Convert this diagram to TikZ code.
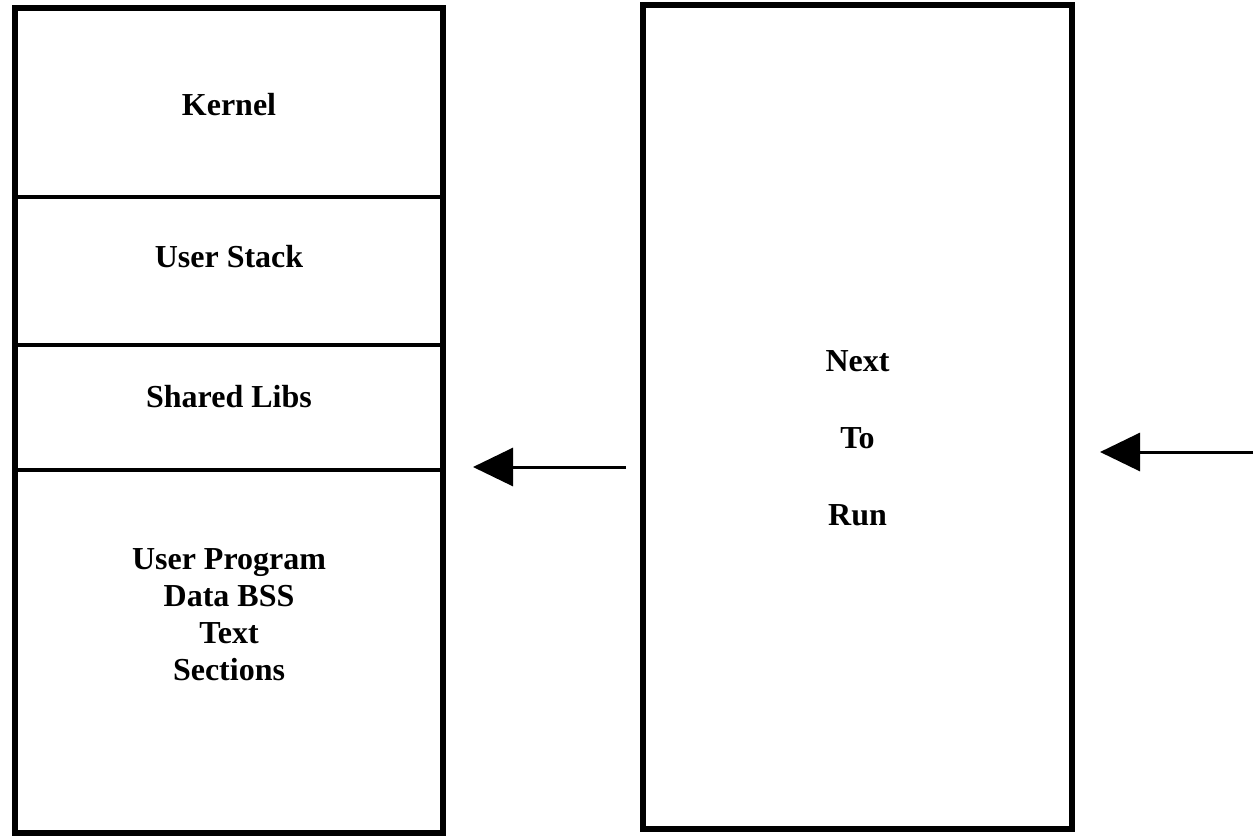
\documentclass[tikz,border=0pt]{standalone}
\usepackage{fontspec}
\setmainfont{Liberation Serif}
\usetikzlibrary{arrows.meta}

\begin{document}
\begin{tikzpicture}[x=0.5pt, y=-0.5pt,
		frame/.style={rectangle, draw=black, line width=3pt, inner sep=0pt},
		divider/.style={line width=1.75pt},
		label/.style={font=\fontsize{16}{18.4}\selectfont\bfseries, align=center, anchor=base},
		arrow/.style={-{Triangle[length=20pt, width=19pt]}, line width=1.5pt}
	]
		\useasboundingbox (0,0) rectangle (1256,836);

		% address space, split into sections
		\node[frame, minimum width=214pt, minimum height=412.5pt] (mem) at (229,420.5) {};
		\draw[divider] (15,197) -- (443,197);
		\draw[divider] (15,345) -- (443,345);
		\draw[divider] (15,470) -- (443,470);
		\node[label] (kernel) at (229,115) {Kernel};
		\node[label] (stack) at (229,267) {User Stack};
		\node[label] (libs) at (229,407) {Shared Libs};
		% base of a multi-line node is its last line
		\node[label] (prog) at (229,680) {User Program\\Data BSS\\Text\\Sections};

		% process waiting
		\node[frame, minimum width=214.5pt, minimum height=412pt] (next) at (857.5,417) {};
		\node[label] (nexttext) at (857.5,525) {Next\\[20pt]To\\[20pt]Run};

		\coordinate (a1) at (626,467);
		\coordinate (a2) at (473,467);
		\coordinate (b1) at (1253,452);
		\coordinate (b2) at (1100,452);
		\draw[arrow] (a1) -- (a2);
		\draw[arrow] (b1) -- (b2);
	\end{tikzpicture}
\end{document}
